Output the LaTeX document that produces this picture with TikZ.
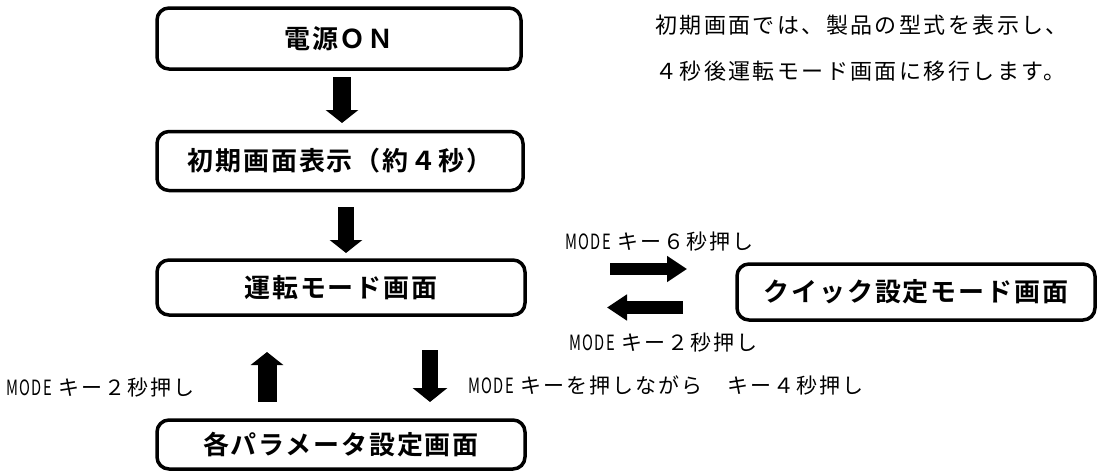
\documentclass[tikz,border=0pt]{standalone}
\usepackage{fontspec}
\setmainfont{Noto Sans CJK JP}
\newfontfamily\boxfont{Noto Sans CJK JP Bold}[LetterSpace=7]
\newfontfamily\lblfont{Noto Sans CJK JP}[LetterSpace=9.5]
\newfontfamily\notefont{Noto Sans CJK JP}[LetterSpace=11]
\usetikzlibrary{arrows.meta}
\newcommand{\md}{\scalebox{0.7}[1]{MODE}}
\tikzset{
  box/.style={draw, line width=3.5pt, rounded corners=12pt, inner sep=0pt,
    font=\boxfont\fontsize{26}{30}\selectfont},
  blk/.style={line width=18pt, -{Triangle[width=32pt,length=13pt]}},
  hblk/.style={line width=12.5pt, -{Triangle[width=25pt,length=20pt]}},
  lbl/.style={anchor=west, inner sep=0pt, font=\lblfont\fontsize{21}{25}\selectfont},
  note/.style={anchor=west, inner sep=0pt, font=\notefont\fontsize{22}{26}\selectfont},
}
\begin{document}
\begin{tikzpicture}[x=1pt,y=-1pt]
\useasboundingbox (0,0) rectangle (1101,471);
\node[box, minimum width=364pt, minimum height=61pt] (b1) at (339,38.5) {電源ＯＮ};
\node[box, minimum width=366pt, minimum height=59pt] (b2) at (340,161) {初期画面表示（約４秒）};
\node[box, minimum width=368pt, minimum height=55pt] (b3) at (341,287.5) {運転モード画面};
\node[box, minimum width=358pt, minimum height=56pt] (b4) at (916,292) {クイック設定モード画面};
\node[box, minimum width=368pt, minimum height=49pt] (b5) at (341,444.5) {各パラメータ設定画面};

\node[note] (n1) at (655,25) {初期画面では、製品の型式を表示し、};
\node[note] (n2) at (655,71) {４秒後運転モード画面に移行します。};

\coordinate (a1s) at (342,77);
\coordinate (a1e) at (342,123);
\draw[blk] (a1s) -- (a1e);
\coordinate (a2s) at (346,207);
\coordinate (a2e) at (346,253);
\draw[blk, line width=16pt] (a2s) -- (a2e);

\coordinate (ra) at (610,269);
\coordinate (rb) at (687,269);
\coordinate (la) at (683,307.5);
\coordinate (lb) at (607,307.5);
\draw[hblk] (ra) -- (rb);
\draw[hblk] (la) -- (lb);

\coordinate (ua) at (267,402);
\coordinate (ub) at (267,352);
\draw[blk, line width=19pt] (ua) -- (ub);
\coordinate (da) at (430,350);
\coordinate (db) at (430,402);
\draw[blk, line width=16pt, -{Triangle[width=34pt,length=14pt]}] (da) -- (db);

\node[lbl] (l1) at (565,242) {\md\ キー６秒押し};
\node[lbl] (l2) at (569,343) {\md\ キー２秒押し};
\node[lbl] (l3) at (6,388) {\md\ キー２秒押し};
\node[lbl] (l4) at (468,385) {\md\ キーを押しながら　キー４秒押し};
\end{tikzpicture}
\end{document}
